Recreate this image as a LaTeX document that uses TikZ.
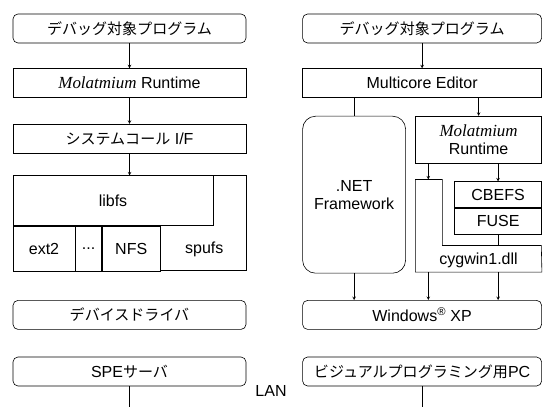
\documentclass[tikz,border=0pt]{standalone}
\usepackage{fontspec}
\setmainfont{Liberation Sans}
\newfontfamily\jpfont[Scale=0.94]{Noto Sans CJK JP}
\newfontfamily\romfont[Scale=1.06]{Liberation Serif}
\usepackage{tikz}
\usetikzlibrary{positioning, arrows}
\tikzstyle{block} = [rectangle, minimum height=29pt, inner sep=0pt, text centered, draw=black, fill=white]
\tikzstyle{lcol} = [block, minimum width=233pt]
\tikzstyle{rcol} = [block, minimum width=239pt]
\tikzstyle{soft} = [rounded corners=5pt]
\tikzstyle{arrow} = [->,>=stealth]
\newcommand{\jp}[1]{{\jpfont #1}}
\newcommand{\mol}{{\romfont\itshape Molatmium}}
\begin{document}
\begin{tikzpicture}[line width=0.6pt, font=\fontsize{16}{18}\selectfont]
        \useasboundingbox (0,0) rectangle (543pt,407pt);
        \coordinate (base) at (0,0);
        % left: SPE side
        \node (dbgL) [lcol, soft] at (129.5pt,378.5pt) {\jp{デバッグ対象プログラム}};
        \node (molL) [lcol, below=25pt of dbgL] {\mol{} Runtime};
        \node (scL) [lcol, below=26pt of molL] {\jp{システムコール} I/F};
        \node (fs) [lcol, below=22pt of scL, minimum height=95pt] {};
        \node (libfs) [block, anchor=north west, minimum width=200pt, minimum height=50pt] at (fs.north west) {libfs};
        \node (ext2) [block, anchor=north west, minimum width=62pt, minimum height=45pt] at (libfs.south west) {ext2};
        \node (dots) [block, right=0pt of ext2, minimum width=26pt, minimum height=45pt] {...};
        \node (nfs) [block, right=0pt of dots, minimum width=58pt, minimum height=45pt] {NFS};
        \node (spufs) [right=0pt of nfs, minimum width=87pt, minimum height=45pt, inner sep=0pt] {spufs};
        \node (drvL) [lcol, soft, below=29pt of fs] {\jp{デバイスドライバ}};
        \node (speL) [lcol, soft, below=27pt of drvL] {SPE\jp{サーバ}};

        % right: PC side
        \node (dbgR) [rcol, soft, right=56pt of dbgL] {\jp{デバッグ対象プログラム}};
        \node (mcR) [rcol, right=56pt of molL] {Multicore Editor};
        \node (net) [block, rounded corners=13pt, below right=18pt and 0pt of mcR.south west, minimum width=103pt, minimum height=157pt, align=center] {.NET\\Framework};
        \node (molR) [block, below left=18pt and 0pt of mcR.south east, minimum width=126pt, minimum height=47pt, align=center] {\mol\\Runtime};
        \node (cyg) [below=16pt of molR, minimum width=126pt, minimum height=92pt, inner sep=0pt] {};
        \node (cbefs) [block, anchor=north east, minimum width=87pt, minimum height=26pt] at ([yshift=-2pt]cyg.north east) {CBEFS};
        \node (fuse) [block, below=0pt of cbefs, minimum width=87pt, minimum height=26pt] {FUSE};
        \node (cygtxt) at ([yshift=12pt]cyg.south) {cygwin1.dll};
        \draw (cyg.north west) -- ++(27pt,0) -- ++(0,-66pt) coordinate (notch) -- ++(99pt,0) -- (cyg.south east) -- (cyg.south west) -- cycle;
        \node (winR) [rcol, soft, right=56pt of drvL] {Windows\textsuperscript{\textregistered} XP};
        \node (pcR) [rcol, soft, right=56pt of speL] {\jp{ビジュアルプログラミング用}PC};
        \node (lan) at (271pt,16pt) {LAN};

        \draw [arrow] (dbgL) -- (molL);
        \draw [arrow] (molL) -- (scL);
        \draw [arrow] (scL) -- (fs);
        \draw (speL.south) -- (speL.south |- base);

        \draw [arrow] (dbgR) -- (mcR);
        \draw (mcR.south -| net.north) -- (net.north);
        \draw [arrow] (mcR.south -| molR.north) -- (molR.north);
        \draw [arrow] ([xshift=13pt]molR.south west) -- ([xshift=13pt]cyg.north west);
        \draw [arrow] (molR.south -| cbefs.north) -- (cbefs.north);
        \draw (fuse.south) -- (fuse.south |- notch);
        \draw [arrow] (net.south) -- (net.south |- winR.north);
        \draw [arrow] ([xshift=13pt]cyg.south west) -- ([xshift=13pt]cyg.south west |- winR.north);
        \draw [arrow] (cyg.south -| fuse.south) -- (fuse.south |- winR.north);
        \draw (pcR.south) -- (pcR.south |- base);
\end{tikzpicture}
\end{document}
